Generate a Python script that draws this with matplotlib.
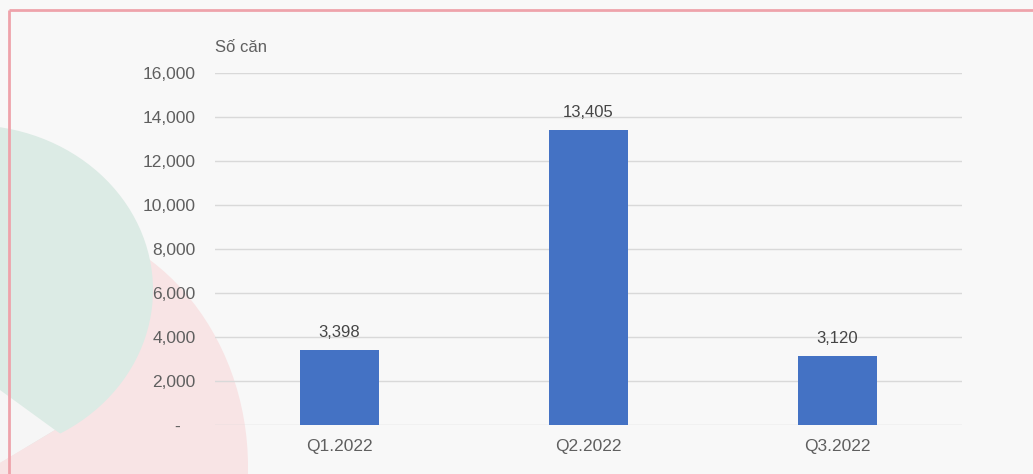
import matplotlib.pyplot as plt
from matplotlib.patches import Ellipse, Polygon
from matplotlib.ticker import FuncFormatter

# Quarterly supply (number of units)
quarters = ["Q1.2022", "Q2.2022", "Q3.2022"]
units = [3398, 13405, 3120]
y_ticks = [0, 2000, 4000, 6000, 8000, 10000, 12000, 14000, 16000]

BAR_COLOR = "#4472C4"
TEXT_COLOR = "#5f5f5f"
GRID_COLOR = "#d9d9d9"
PINK = "#f8e4e5"

plt.rcParams["font.family"] = ["Liberation Sans", "DejaVu Sans"]

W, H = 1033, 474
fig = plt.figure(figsize=(W / 100, H / 100), dpi=100, facecolor="#f8f8f8")

# decorative backdrop drawn in pixel coordinates
bg = fig.add_axes([0, 0, 1, 1], zorder=0)
bg.set_xlim(0, W)
bg.set_ylim(H, 0)
bg.axis("off")
bg.add_patch(Ellipse((30, 467), 436, 496, facecolor=PINK, edgecolor="none"))
bg.add_patch(Ellipse((-30, 290), 366, 330, facecolor="#dcebe5", edgecolor="none"))
bg.add_patch(Polygon([(0, 390), (55, 430), (0, 463)], facecolor="#f6f6f6", edgecolor="none"))
bg.add_patch(Polygon([(55, 430), (0, 463), (0, H), (120, H)], facecolor=PINK, edgecolor="none"))
bg.plot([9, W], [10, 10], color="#eea3ab", linewidth=2, solid_capstyle="butt")
bg.plot([9, 9], [10, H], color="#eea3ab", linewidth=2, solid_capstyle="butt")

ax = fig.add_axes([215 / W, 49 / H, 747 / W, 352 / H], zorder=1)
ax.patch.set_alpha(0)

x = range(len(quarters))
bars = ax.bar(x, units, width=0.317, color=BAR_COLOR, zorder=3)
for rect, val in zip(bars, units):
    ax.annotate(
        f"{val:,}",
        (rect.get_x() + rect.get_width() / 2, val),
        xytext=(0, 13),
        textcoords="offset points",
        ha="center",
        va="center",
        fontsize=12,
        color="#454545",
    )

ax.set_xlim(-0.5, 2.5)
ax.set_ylim(0, 16000)
ax.set_xticks(list(x))
ax.set_xticklabels(quarters)
ax.set_yticks(y_ticks)
ax.yaxis.set_major_formatter(FuncFormatter(lambda v, _: "-   " if v == 0 else f"{int(v):,}"))
ax.tick_params(axis="y", length=0, pad=14, labelsize=12.5, labelcolor=TEXT_COLOR)
ax.tick_params(axis="x", length=0, pad=10, labelsize=12.5, labelcolor=TEXT_COLOR)
ax.grid(axis="y", color=GRID_COLOR, linewidth=1.0, zorder=0)
for spine in ax.spines.values():
    spine.set_visible(False)

fig.text(215 / W, 1 - 48 / H, "Số căn", ha="left", va="center", fontsize=12, color=TEXT_COLOR)

fig.savefig("out.png", dpi=100, facecolor=fig.get_facecolor())
